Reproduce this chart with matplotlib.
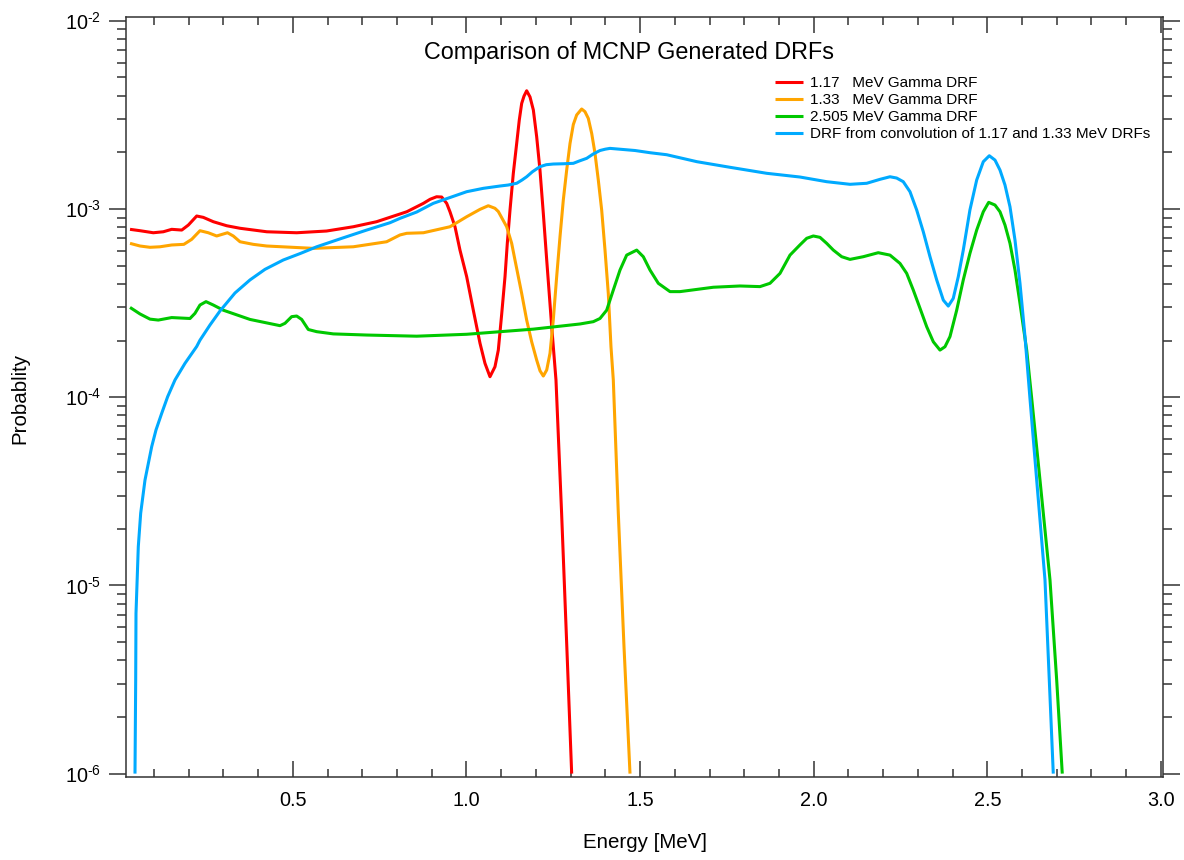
import math
import matplotlib
matplotlib.use("Agg")
import matplotlib.pyplot as plt
from matplotlib.ticker import FixedLocator, FuncFormatter, LogLocator, NullFormatter, MultipleLocator

plt.rcParams['font.family'] = ['Liberation Sans', 'DejaVu Sans']
plt.rcParams['mathtext.fontset'] = 'custom'
plt.rcParams['mathtext.rm'] = 'Liberation Sans'
plt.rcParams['mathtext.it'] = 'Liberation Sans'
plt.rcParams['mathtext.bf'] = 'Liberation Sans'

# ---------------- data ----------------
e117 = [0.031, 0.0597, 0.098, 0.1268, 0.151, 0.180, 0.199, 0.223, 0.242, 0.271, 0.3094,
        0.348, 0.425, 0.511, 0.597, 0.674, 0.741, 0.828, 0.876, 0.895, 0.914, 0.9286,
        0.943, 0.9525, 0.967, 0.9813, 1.0006, 1.0197, 1.039, 1.0533, 1.0677, 1.0821,
        1.0917, 1.1014, 1.111, 1.1176, 1.1254, 1.1349, 1.1446, 1.1521, 1.159, 1.1657,
        1.1734, 1.183, 1.1926, 1.2022, 1.2117, 1.2213, 1.2311, 1.2455, 1.2578, 1.274,
        1.289, 1.303]
p117 = [7.80e-4, 7.67e-4, 7.48e-4, 7.57e-4, 7.80e-4, 7.73e-4, 8.22e-4, 9.18e-4, 9.03e-4,
        8.56e-4, 8.15e-4, 7.90e-4, 7.57e-4, 7.48e-4, 7.64e-4, 8.05e-4, 8.56e-4, 9.67e-4,
        1.072e-3, 1.126e-3, 1.162e-3, 1.158e-3, 1.072e-3, 9.67e-4, 8.05e-4, 6.05e-4,
        4.37e-4, 2.90e-4, 1.934e-4, 1.514e-4, 1.285e-4, 1.452e-4, 1.78e-4, 2.76e-4,
        4.37e-4, 6.57e-4, 9.88e-4, 1.546e-3, 2.23e-3, 2.97e-3, 3.64e-3, 3.98e-3, 4.25e-3,
        3.94e-3, 3.36e-3, 2.42e-3, 1.61e-3, 9.49e-4, 5.36e-4, 2.37e-4, 1.235e-4, 2.42e-5,
        4.73e-6, 1.0e-6]

e133 = [0.031, 0.0597, 0.0885, 0.1173, 0.151, 0.186, 0.2086, 0.2325, 0.2564, 0.2806,
        0.3117, 0.3284, 0.3477, 0.386, 0.4246, 0.5588, 0.674, 0.770, 0.8085, 0.828, 0.876,
        0.9525, 1.0006, 1.039, 1.0628, 1.082, 1.0917, 1.1158, 1.1302, 1.1397, 1.159,
        1.1734, 1.1878, 1.2022, 1.2117, 1.2213, 1.2311, 1.2406, 1.25, 1.2598, 1.2694,
        1.2789, 1.2886, 1.2982, 1.3077, 1.3174, 1.3318, 1.3413, 1.3509, 1.3607, 1.3701,
        1.3797, 1.3894, 1.399, 1.4085, 1.4162, 1.4229, 1.4373, 1.4537, 1.471]
p133 = [6.57e-4, 6.36e-4, 6.26e-4, 6.30e-4, 6.44e-4, 6.49e-4, 6.90e-4, 7.67e-4, 7.48e-4,
        7.19e-4, 7.48e-4, 7.19e-4, 6.70e-4, 6.49e-4, 6.36e-4, 6.18e-4, 6.30e-4, 6.70e-4,
        7.28e-4, 7.43e-4, 7.48e-4, 8.05e-4, 9.10e-4, 9.96e-4, 1.041e-3, 1.009e-3, 9.7e-4,
        8.05e-4, 6.57e-4, 5.36e-4, 3.56e-4, 2.57e-4, 1.97e-4, 1.576e-4, 1.383e-4, 1.296e-4,
        1.395e-4, 1.712e-4, 2.57e-4, 4.37e-4, 7.13e-4, 1.116e-3, 1.61e-3, 2.23e-3, 2.81e-3,
        3.16e-3, 3.40e-3, 3.29e-3, 3.03e-3, 2.52e-3, 1.98e-3, 1.426e-3, 9.88e-4, 6.05e-4,
        3.56e-4, 1.855e-4, 1.235e-4, 2.42e-5, 4.73e-6, 1.0e-6]

e2505 = [0.031, 0.0597, 0.0885, 0.1124, 0.151, 0.2037, 0.218, 0.2325, 0.2498, 0.2708,
         0.2996, 0.3765, 0.4629, 0.4773, 0.4966, 0.511, 0.5254, 0.5444, 0.5686, 0.6164,
         0.7126, 0.8566, 1.0006, 1.1924, 1.3269, 1.3653, 1.3845, 1.4038, 1.4229, 1.4422,
         1.4614, 1.4903, 1.5093, 1.5286, 1.5525, 1.5862, 1.615, 1.711, 1.7878, 1.8454,
         1.8742, 1.903, 1.9318, 1.9606, 1.98, 1.999, 2.0182, 2.0375, 2.0566, 2.0807,
         2.1046, 2.1429, 2.186, 2.2198, 2.2486, 2.2679, 2.2869, 2.3062, 2.3255, 2.3446,
         2.3638, 2.3782, 2.3926, 2.4119, 2.4309, 2.45, 2.4695, 2.4885, 2.504, 2.5222,
         2.5366, 2.551, 2.5654, 2.5798, 2.5942, 2.6135, 2.6279, 2.6518, 2.6806, 2.6999,
         2.716]
p2505 = [3.00e-4, 2.77e-4, 2.60e-4, 2.57e-4, 2.65e-4, 2.62e-4, 2.79e-4, 3.09e-4, 3.22e-4,
         3.09e-4, 2.90e-4, 2.59e-4, 2.40e-4, 2.47e-4, 2.68e-4, 2.70e-4, 2.59e-4, 2.29e-4,
         2.23e-4, 2.17e-4, 2.14e-4, 2.11e-4, 2.16e-4, 2.30e-4, 2.45e-4, 2.52e-4, 2.62e-4,
         2.90e-4, 3.71e-4, 4.74e-4, 5.69e-4, 6.05e-4, 5.58e-4, 4.74e-4, 4.03e-4, 3.64e-4,
         3.64e-4, 3.84e-4, 3.90e-4, 3.87e-4, 4.03e-4, 4.55e-4, 5.69e-4, 6.45e-4, 6.99e-4,
         7.19e-4, 7.07e-4, 6.57e-4, 6.05e-4, 5.58e-4, 5.40e-4, 5.58e-4, 5.86e-4, 5.69e-4,
         5.14e-4, 4.55e-4, 3.71e-4, 2.97e-4, 2.37e-4, 1.97e-4, 1.78e-4, 1.855e-4, 2.10e-4,
         2.90e-4, 4.20e-4, 5.81e-4, 7.73e-4, 9.67e-4, 1.085e-3, 1.05e-3, 9.67e-4, 8.22e-4,
         6.57e-4, 4.74e-4, 3.15e-4, 1.78e-4, 9.87e-5, 3.63e-5, 1.07e-5, 3.14e-6, 1.0e-6]

econv = [0.0453, 0.0473, 0.0482, 0.0548, 0.0617, 0.0741, 0.0934, 0.1058, 0.1222, 0.1394,
         0.1605, 0.1893, 0.223, 0.2325, 0.2613, 0.290, 0.3333, 0.3765, 0.4197, 0.4724,
         0.522, 0.5686, 0.64, 0.7126, 0.78, 0.8085, 0.8566, 0.9044, 0.9525, 1.0006, 1.0484,
         1.0965, 1.12, 1.1446, 1.16, 1.1734, 1.19, 1.2117, 1.23, 1.25, 1.28, 1.3077, 1.325,
         1.3462, 1.365, 1.3845, 1.40, 1.4134, 1.44, 1.4854, 1.53, 1.5767, 1.6639, 1.759,
         1.8647, 1.9606, 2.0375, 2.1046, 2.1527, 2.191, 2.2198, 2.239, 2.258, 2.2774,
         2.2967, 2.3157, 2.335, 2.3543, 2.3734, 2.3877, 2.402, 2.4165, 2.4309, 2.45, 2.4695,
         2.4885, 2.5058, 2.5222, 2.5366, 2.551, 2.5654, 2.5798, 2.5942, 2.6086, 2.6229,
         2.6423, 2.6662, 2.6786, 2.6901]
pconv = [1.0e-6, 3.14e-6, 7.11e-6, 1.606e-5, 2.42e-5, 3.63e-5, 5.46e-5, 6.7e-5, 8.21e-5,
         1.007e-4, 1.235e-4, 1.514e-4, 1.86e-4, 2.01e-4, 2.42e-4, 2.87e-4, 3.58e-4, 4.20e-4,
         4.78e-4, 5.36e-4, 5.81e-4, 6.30e-4, 6.98e-4, 7.73e-4, 8.46e-4, 8.92e-4, 9.64e-4,
         1.072e-3, 1.151e-3, 1.236e-3, 1.288e-3, 1.325e-3, 1.341e-3, 1.37e-3, 1.426e-3,
         1.484e-3, 1.578e-3, 1.679e-3, 1.72e-3, 1.734e-3, 1.74e-3, 1.749e-3, 1.80e-3,
         1.859e-3, 1.96e-3, 2.046e-3, 2.08e-3, 2.10e-3, 2.08e-3, 2.046e-3, 1.99e-3,
         1.943e-3, 1.784e-3, 1.666e-3, 1.548e-3, 1.479e-3, 1.397e-3, 1.353e-3, 1.37e-3,
         1.438e-3, 1.484e-3, 1.461e-3, 1.397e-3, 1.236e-3, 9.88e-4, 7.57e-4, 5.58e-4,
         4.20e-4, 3.28e-4, 3.05e-4, 3.35e-4, 4.37e-4, 6.05e-4, 9.88e-4, 1.426e-3, 1.784e-3,
         1.919e-3, 1.82e-3, 1.611e-3, 1.341e-3, 1.028e-3, 6.84e-4, 4.03e-4, 2.10e-4,
         9.87e-5, 3.63e-5, 1.07e-5, 3.14e-6, 1.0e-6]

labels = ["1.17   MeV Gamma DRF", "1.33   MeV Gamma DRF", "2.505 MeV Gamma DRF",
          "DRF from convolution of 1.17 and 1.33 MeV DRFs"]
colors = ["#ff0000", "#ffa500", "#00c800", "#00aaff"]
xtick_vals = [0.5, 1.0, 1.5, 2.0, 2.5, 3.0]
xtick_labels = ["0.5", "1.0", "1.5", "2.0", "2.5", "3.0"]

# ---------------- figure ----------------
W, H = 1184, 860
fig = plt.figure(figsize=(W / 100, H / 100), dpi=100)
ax = fig.add_axes([126 / W, 1 - 776.7 / H, (1163 - 126) / W, (776.7 - 17.3) / H])

series = [(e117, p117), (e133, p133), (e2505, p2505), (econv, pconv)]
for (xs, ys), c, lab in zip(series, colors, labels):
    ax.plot(xs, ys, color=c, lw=2.2, label=lab, solid_joinstyle='round',
            solid_capstyle='butt')

ax.set_yscale('log')
ax.set_xlim(0.0194, 3.0061)
ax.set_ylim(9.63e-7, 1.044e-2)

ax.xaxis.set_major_locator(FixedLocator(xtick_vals))
ax.set_xticklabels(xtick_labels)
ax.xaxis.set_minor_locator(MultipleLocator(0.1))
ax.yaxis.set_major_locator(LogLocator(base=10, numticks=10))
ax.yaxis.set_minor_locator(LogLocator(base=10, subs=range(2, 10), numticks=20))
ax.yaxis.set_minor_formatter(NullFormatter())


def yfmt(v, pos):
    ex = int(round(math.log10(v)))
    sign = "\u2010" if ex < 0 else ""
    return r'$\mathregular{10^{%s%d}}$' % (sign, abs(ex))


ax.yaxis.set_major_formatter(FuncFormatter(yfmt))

spine_c = '#333333'
for s in ax.spines.values():
    s.set_linewidth(1.1)
    s.set_color(spine_c)

ax.tick_params(axis='x', which='both', direction='in', top=True, bottom=True,
               color=spine_c, width=1.1, labelsize=14.3, pad=10)
ax.tick_params(axis='x', which='major', length=11.5)
ax.tick_params(axis='x', which='minor', length=5.8)
ax.tick_params(axis='y', which='both', direction='out', left=True, right=True,
               color=spine_c, width=1.1, labelsize=14.3, pad=6)
ax.tick_params(axis='y', which='major', length=12)
ax.tick_params(axis='y', which='minor', length=6.5)

fig.text(629 / W, 1 - 52 / H, "Comparison of MCNP Generated DRFs", ha='center', va='center',
         fontsize=16.8)
fig.text(645 / W, 1 - 843 / H, "Energy [MeV]", ha='center', va='center', fontsize=14.8)
fig.text(20 / W, 1 - 398 / H, "Probablity", ha='center', va='center', rotation=90,
         fontsize=14.8)

leg = ax.legend(loc='upper left', bbox_to_anchor=(775 / W, 1 - 76 / H),
                bbox_transform=fig.transFigure, frameon=False, fontsize=11,
                handlelength=1.85, handletextpad=0.45, labelspacing=0.2,
                borderpad=0, borderaxespad=0)

fig.savefig("out.png", dpi=100)
